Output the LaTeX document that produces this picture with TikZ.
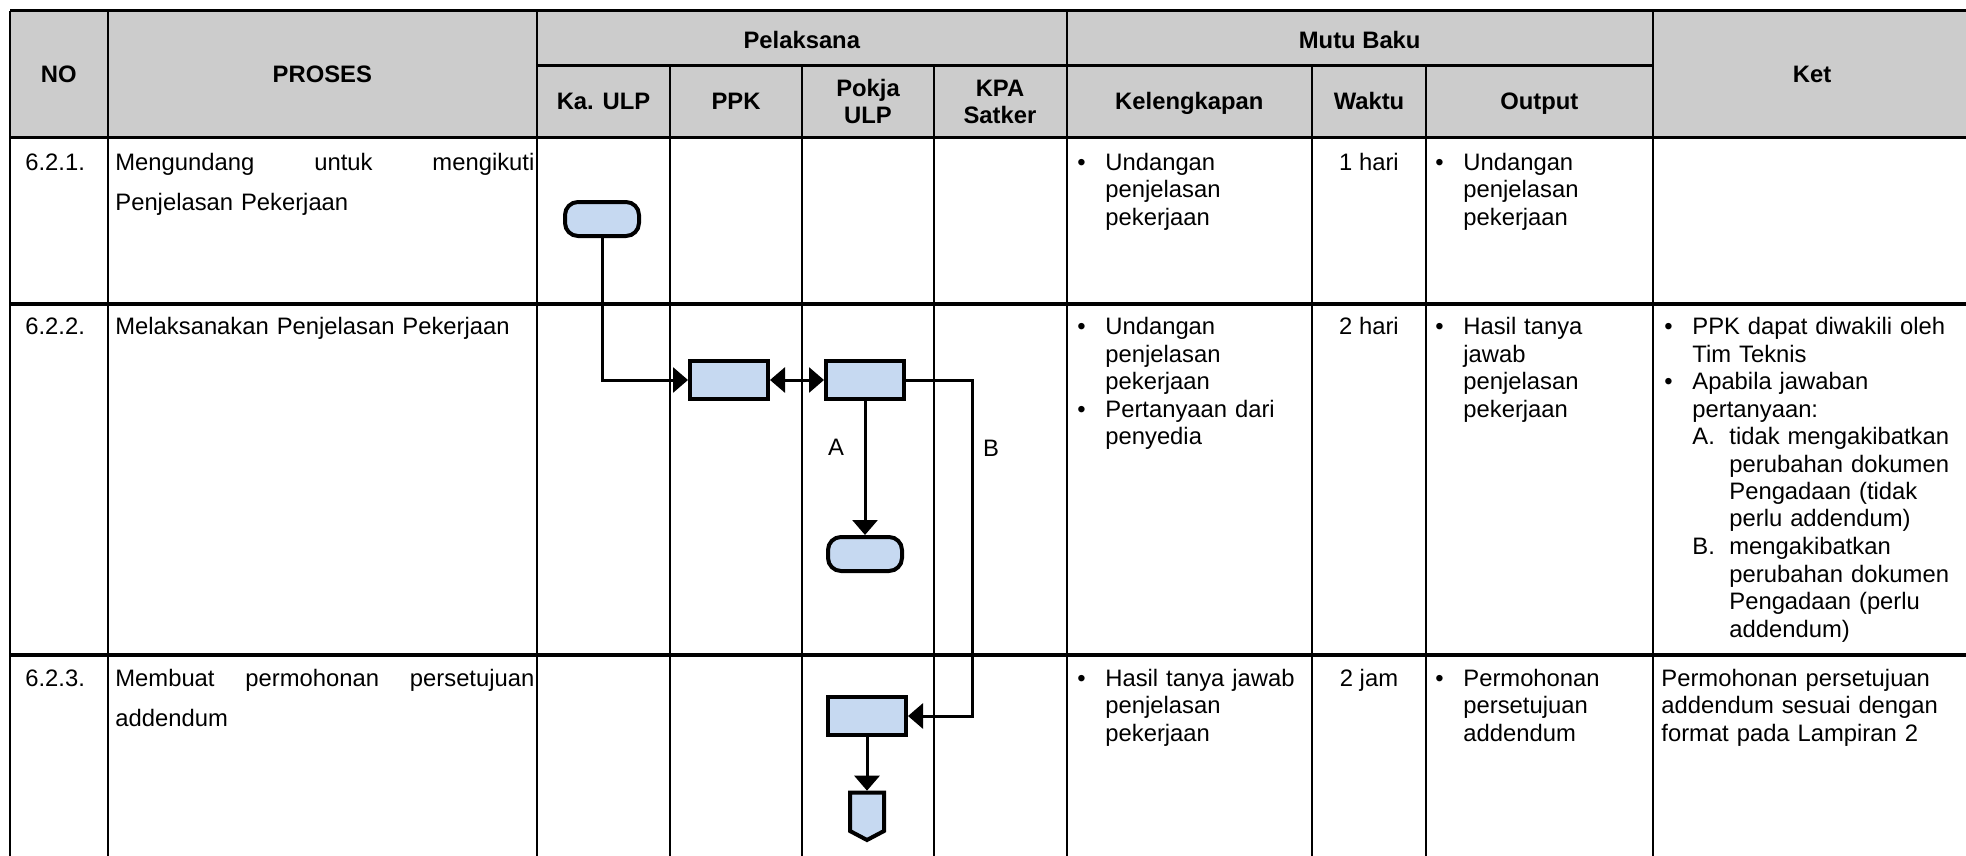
\documentclass[tikz,border=0pt]{standalone}
\usepackage{fontspec}
\setmainfont{Liberation Sans}
\usepackage{tikz}
\usetikzlibrary{arrows.meta}

\definecolor{hdrgray}{HTML}{CCCCCC}
\definecolor{boxblue}{HTML}{C6D9F1}

\newcommand{\txt}{\fontsize{11.9}{13.75}\selectfont}
\newcommand{\prosfont}{\fontsize{11.9}{20}\selectfont}
\newcommand{\bitem}[1]{\noindent\hangindent=14pt\hangafter=1\makebox[14pt][l]{\textbullet}#1\par}
\newcommand{\litem}[2]{\noindent\hangindent=32.5pt\hangafter=1\hspace*{14pt}\makebox[18.5pt][l]{#1}#2\par}

\begin{document}
\begin{tikzpicture}[x=0.5pt,y=-0.5pt,
  grid/.style={line width=1.2pt},
  rowline/.style={line width=1.6pt},
  cell/.style={anchor=base west,inner sep=0pt,align=left,font=\txt},
  hdr/.style={anchor=base,inner sep=0pt,align=center,font=\txt\bfseries},
  proc/.style={draw,line width=2pt,fill=boxblue,minimum width=39pt,minimum height=19pt,inner sep=0pt},
  term/.style={proc,rounded corners=6.5pt,minimum width=37pt,minimum height=17pt},
  flow/.style={line width=1.5pt},
  arr/.style={flow,-{Triangle[length=7.5pt,width=12.5pt]}},
  darr/.style={flow,{Triangle[length=7.5pt,width=12.5pt]}-{Triangle[length=7.5pt,width=12.5pt]}}]
  \useasboundingbox (0,0) rectangle (1966,856);
  \fill[hdrgray] (10,10.7) rectangle (1966,137.7);
  \draw[grid] (10,10.7) -- (1966,10.7);
  \draw[grid] (537,65.7) -- (1652.7,65.7);
  \foreach \y in {137.7,304,655} \draw[rowline] (10,\y) -- (1966,\y);
  \foreach \x in {10,107.7,537,1066.7,1652.7} \draw[grid] (\x,10.7) -- (\x,856);
  \foreach \x in {670,802,934,1312,1426} \draw[grid] (\x,65.7) -- (\x,856);

  \node[hdr] (hno) at (58.8,82.3) {NO};
  \node[hdr] (hproses) at (322.3,82.3) {PROSES};
  \node[hdr] (hpel) at (801.8,48.3) {Pelaksana};
  \node[hdr] (hkaulp) at (603.5,110) {Ka. ULP};
  \node[hdr] (hppk) at (736,110) {PPK};
  \node[hdr,anchor=center] (hpokja) at (868,101.7) {Pokja\\ULP};
  \node[hdr,anchor=center] (hkpa) at (1000,101.7) {KPA\\Satker};
  \node[hdr] (hmutu) at (1359.7,48.3) {Mutu Baku};
  \node[hdr] (hkel) at (1189.3,110) {Kelengkapan};
  \node[hdr] (hwaktu) at (1369,110) {Waktu};
  \node[hdr] (houtput) at (1539.3,110) {Output};
  \node[hdr] (hket) at (1812,82.3) {Ket};

  \node[cell] (no1) at (25,170) {6.2.1.};
  \node[cell] (no2) at (25,334.5) {6.2.2.};
  \node[cell] (no3) at (25,686) {6.2.3.};
  \node[cell,font=\prosfont,text width=211pt] (pr1) at (115,170)
    {\hbox to 209.5pt{Mengundang\hfil untuk\hfil mengikuti}\\Penjelasan Pekerjaan};
  \node[cell,font=\prosfont,text width=211pt] (pr2) at (115,334.5)
    {Melaksanakan Penjelasan Pekerjaan};
  \node[cell,font=\prosfont,text width=211pt] (pr3) at (115,686)
    {\hbox to 209.5pt{Membuat\hfil permohonan\hfil persetujuan}\\addendum};

  \node[cell,text width=115.5pt] (kel1) at (1077,170)
    {\bitem{Undangan\newline penjelasan\newline pekerjaan}};
  \node[cell,text width=115.5pt] (kel2) at (1077,334.5)
    {\bitem{Undangan\newline penjelasan\newline pekerjaan}\bitem{Pertanyaan dari\newline penyedia}};
  \node[cell,text width=115.5pt] (kel3) at (1077,686)
    {\bitem{Hasil tanya jawab\newline penjelasan\newline pekerjaan}};

  \node[cell,anchor=base] (wk1) at (1369,170) {1 hari};
  \node[cell,anchor=base] (wk2) at (1369,334.5) {2 hari};
  \node[cell,anchor=base] (wk3) at (1369,686) {2 jam};

  \node[cell,text width=107.5pt] (out1) at (1435,170)
    {\bitem{Undangan\newline penjelasan\newline pekerjaan}};
  \node[cell,text width=107.5pt] (out2) at (1435,334.5)
    {\bitem{Hasil tanya\newline jawab\newline penjelasan\newline pekerjaan}};
  \node[cell,text width=107.5pt] (out3) at (1435,686)
    {\bitem{Permohonan\newline persetujuan\newline addendum}};

  \node[cell,text width=149pt] (ket2) at (1664,334.5)
    {\bitem{PPK dapat diwakili oleh\newline Tim Teknis}\bitem{Apabila jawaban\newline pertanyaan:}%
     \litem{A.}{tidak mengakibatkan\newline perubahan dokumen\newline Pengadaan (tidak\newline perlu addendum)}%
     \litem{B.}{mengakibatkan\newline perubahan dokumen\newline Pengadaan (perlu\newline addendum)}};
  \node[cell,text width=150pt] (ket3) at (1661,686)
    {Permohonan persetujuan\\addendum sesuai dengan\\format pada Lampiran 2};

  \node[term] (start) at (602,219) {};
  \node[proc] (ppk) at (729,380) {};
  \node[proc] (pokja) at (865,380) {};
  \node[term] (stop) at (865,554) {};
  \node[proc] (mohon) at (867,716) {};
  \node[inner sep=0pt,outer sep=0pt,minimum width=17pt,minimum height=23.65pt] (link) at (867,816.35) {};
  \draw[line width=2pt,fill=boxblue] (link.north west) -- (link.north east) -- ([yshift=4.5pt]link.south east)
    -- (link.south) -- ([yshift=4.5pt]link.south west) -- cycle;
  \coordinate (bturn) at (972,380);

  \draw[arr] (start.south) |- (ppk.west);
  \draw[darr] (ppk.east) -- (pokja.west);
  \draw[arr] (pokja.south) -- (stop.north);
  \draw[arr] (pokja.east) -- (bturn) |- (mohon.east);
  \draw[arr,shorten >=1pt] (mohon.south) -- (link.north);
  \node[font=\txt] (lbla) at (836,447) {A};
  \node[font=\txt] (lblb) at (991,448) {B};
\end{tikzpicture}
\end{document}
